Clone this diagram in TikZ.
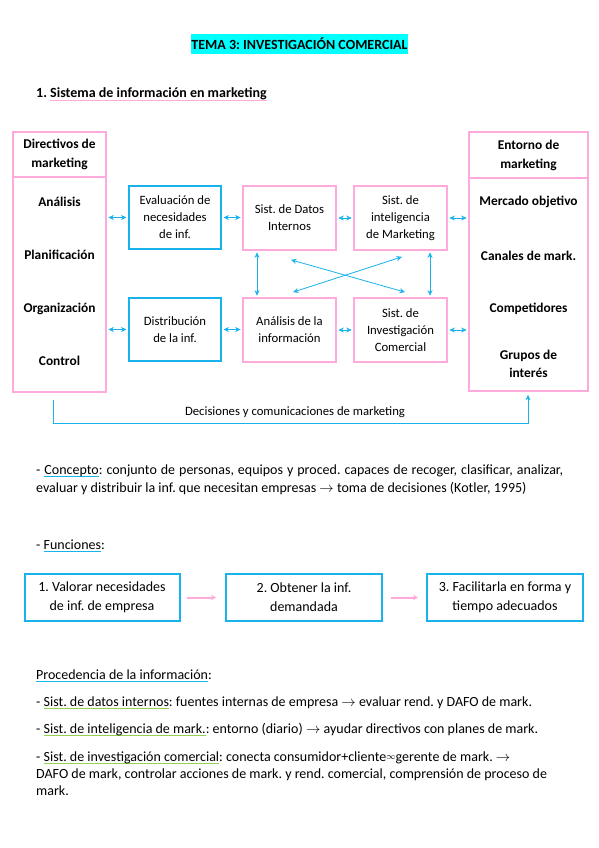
\documentclass[tikz,border=0pt]{standalone}
\usepackage{fontspec}
\setmainfont{Carlito}
\usetikzlibrary{arrows.meta}
\frenchspacing
\definecolor{pinkb}{RGB}{255,170,220}
\definecolor{blueb}{RGB}{24,178,236}
\definecolor{greenu}{RGB}{146,208,80}
\definecolor{cyanhl}{RGB}{0,255,255}
\newcommand\myul[2]{\setbox0\hbox{#2}\rlap{\color{#1}\rule[-3pt]{\wd0}{1.3pt}}\box0}
\newcommand\myarr{$\rightarrow$}
\tikzset{
  pinkbox/.style={draw=pinkb, line width=1.7pt, align=center, inner sep=0pt},
  bluebox/.style={draw=blueb, line width=2pt, align=center, inner sep=0pt},
  biarrow/.style={draw=blueb, line width=0.8pt, shorten <=1.5pt, shorten >=1.5pt,
    {Stealth[length=5.5pt,width=5pt]}-{Stealth[length=5.5pt,width=5pt]}},
  pinkarrow/.style={draw=pinkb, line width=2pt, -{Stealth[length=5pt,width=5.5pt]}},
  boxtxt/.style={font=\fontsize{12.7}{17}\selectfont},
  hdrtxt/.style={font=\bfseries\fontsize{13.4}{19}\selectfont},
  itemtxt/.style={font=\bfseries\fontsize{13.4}{18}\selectfont, align=center, inner sep=0pt},
  bodytxt/.style={anchor=base west, font=\fontsize{14}{17}\selectfont, inner sep=0pt},
}
\begin{document}
\begin{tikzpicture}[x=1pt,y=-1pt]
\useasboundingbox (0,0) rectangle (599,848);
\fill[white] (0,0) rectangle (599,848);

% title
\node[fill=cyanhl, minimum width=215, minimum height=20, inner sep=0pt,
      font=\bfseries\fontsize{14}{17}\selectfont] (title) at (299.5,44) {TEMA 3: INVESTIGACIÓN COMERCIAL};
\node[bodytxt, font=\bfseries\fontsize{14}{17}\selectfont] (sec1) at (36,98)
  {1. \myul{pinkb}{Sistema de información en marketing}};

% left column
\node[pinkbox, hdrtxt, minimum width=93, minimum height=45] (dirh) at (59.5,154.5) {Directivos de\\marketing};
\node[pinkbox, minimum width=93, minimum height=215] (dirb) at (59.5,284.5) {};
\node[itemtxt] (i1) at (59.5,202) {Análisis};
\node[itemtxt] (i2) at (59.5,255) {Planificación};
\node[itemtxt] (i3) at (59.5,309) {Organización};
\node[itemtxt] (i4) at (59.5,361) {Control};

% right column
\node[pinkbox, hdrtxt, minimum width=119, minimum height=46] (enth) at (528.5,155) {Entorno de\\marketing};
\node[pinkbox, minimum width=119, minimum height=213] (entb) at (528.5,284.5) {};
\node[itemtxt] (e1) at (528.5,202) {Mercado objetivo};
\node[itemtxt] (e2) at (528.5,256) {Canales de mark.};
\node[itemtxt] (e3) at (528.5,309) {Competidores};
\node[itemtxt] (e4) at (528.5,364) {Grupos de\\interés};

% middle boxes
\node[bluebox, boxtxt, minimum width=92, minimum height=63] (eval) at (175,217.5) {Evaluación de\\necesidades\\de inf.};
\node[bluebox, boxtxt, minimum width=92, minimum height=63] (dist) at (175,329.5) {Distribución\\de la inf.};
\node[pinkbox, boxtxt, minimum width=93, minimum height=64] (datos) at (289.5,218) {Sist. de Datos\\Internos};
\node[pinkbox, boxtxt, minimum width=93, minimum height=64] (intel) at (400.5,218) {Sist. de\\inteligencia\\de Marketing};
\node[pinkbox, boxtxt, minimum width=93, minimum height=64] (anal) at (289.5,330) {Análisis de la\\información};
\node[pinkbox, boxtxt, minimum width=93, minimum height=64] (inv) at (400.5,330) {Sist. de\\Investigación\\Comercial};

% horizontal arrows
\draw[biarrow] (dirb.east |- eval) -- (eval.west);
\draw[biarrow] (eval.east) -- (datos.west |- eval);
\draw[biarrow] (datos.east) -- (intel.west);
\draw[biarrow] (intel.east) -- (entb.west |- intel);
\draw[biarrow] (dirb.east |- dist) -- (dist.west);
\draw[biarrow] (dist.east) -- (anal.west |- dist);
\draw[biarrow] (anal.east) -- (inv.west);
\draw[biarrow] (inv.east) -- (entb.west |- inv);

% vertical arrows
\draw[biarrow] ([xshift=-32.5]datos.south) -- ([xshift=-32.5]anal.north);
\draw[biarrow] ([xshift=29.5]intel.south) -- ([xshift=29.5]inv.north);

% crossing arrows
\draw[biarrow, shorten <=0pt, shorten >=0pt] ([shift={(1.5,9)}]datos.south) -- ([shift={(4.5,-5)}]inv.north);
\draw[biarrow, shorten <=0pt, shorten >=0pt] ([shift={(1.5,6)}]intel.south) -- ([shift={(3.5,-5)}]anal.north);

% feedback loop
\draw[draw=blueb, line width=0.9pt, -{Stealth[length=5.5pt,width=5pt]}]
  ([shift={(-6.5,7)}]dirb.south) -- ++(0,24) -| ([shift={(-0.5,3)}]entb.south);
\node[font=\fontsize{12.7}{15}\selectfont, inner sep=0pt] (dec) at (295,412) {Decisiones y comunicaciones de marketing};

% concepto
\node[bodytxt] (c1) at (36,474) {\hbox to 527pt{- \myul{blueb}{Concepto}: conjunto de personas, equipos y proced. capaces de recoger, clasificar, analizar,}};
\node[bodytxt] (c2) at (36,492) {evaluar y distribuir la inf. que necesitan empresas \myarr{} toma de decisiones (Kotler, 1995)};

% funciones
\node[bodytxt] (f0) at (36,549) {- \myul{blueb}{Funciones}:};
\node[bluebox, font=\fontsize{14}{19}\selectfont, minimum width=155, minimum height=47] (fb1) at (102,597.5) {1. Valorar necesidades\\de inf. de empresa};
\node[bluebox, font=\fontsize{14}{19}\selectfont, minimum width=156, minimum height=47] (fb2) at (304,597.5) {2. Obtener la inf.\\demandada};
\node[bluebox, font=\fontsize{14}{19}\selectfont, minimum width=156, minimum height=47] (fb3) at (505,597.5) {3. Facilitarla en forma y\\tiempo adecuados};
\draw[pinkarrow, shorten <=6pt, shorten >=9pt] (fb1.east) -- (fb2.west);
\draw[pinkarrow, shorten <=8pt, shorten >=8pt] (fb2.east) -- (fb3.west);

% procedencia
\node[bodytxt] (p0) at (36,679) {\myul{blueb}{Procedencia de la información}:};
\node[bodytxt] (p1) at (36,706) {- \myul{greenu}{Sist. de datos internos}: fuentes internas de empresa \myarr{} evaluar rend. y DAFO de mark.};
\node[bodytxt] (p2) at (36,733) {- \myul{greenu}{Sist. de inteligencia de mark.}: entorno (diario) \myarr{} ayudar directivos con planes de mark.};
\node[bodytxt] (p3) at (36,761) {- \myul{greenu}{Sist. de investigación comercial}: conecta consumidor+cliente\raisebox{1.5pt}{\fontsize{9}{9}\selectfont$\infty$}gerente de mark. \myarr};
\node[bodytxt] (p4) at (36,778) {DAFO de mark, controlar acciones de mark. y rend. comercial, comprensión de proceso de};
\node[bodytxt] (p5) at (36,795) {mark.};
\end{tikzpicture}
\end{document}
